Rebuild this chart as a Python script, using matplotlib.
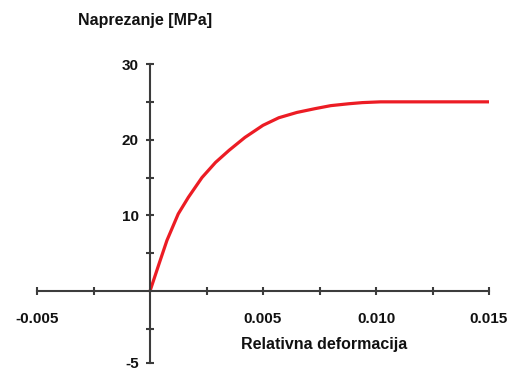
import numpy as np
import matplotlib
matplotlib.use("Agg")
import matplotlib.pyplot as plt
from matplotlib.ticker import FixedLocator

# stress-strain curve
strain = [0.0, 0.0004, 0.00075, 0.00125, 0.0017, 0.0023, 0.0029, 0.0035,
          0.0042, 0.0050, 0.0057, 0.0065, 0.0073, 0.0080, 0.0088, 0.0094,
          0.0102, 0.0120, 0.0150]
stress = [0.0, 3.6, 6.7, 10.2, 12.4, 15.0, 17.0, 18.6,
          20.3, 21.9, 22.9, 23.6, 24.1, 24.5, 24.75, 24.9,
          25.0, 25.0, 25.0]

x_major = [-0.005, 0.005, 0.010, 0.015]
x_labels = ['-0.005', '0.005', '0.010', '0.015']
x_minor = [-0.0025, 0.0025, 0.0075, 0.0125]
y_bottom = -9.5
y_major = [y_bottom, 10, 20, 30]
y_labels = ['-5', '10', '20', '30']
y_minor = [-5, 5, 15, 25]

axis_col = '#3c3c3c'
font = ['Liberation Sans', 'DejaVu Sans']

fig = plt.figure(figsize=(5.12, 3.7), dpi=100)
ax = fig.add_axes([37 / 512, 1 - 363 / 370, 452 / 512, 299 / 370])

ax.plot(strain, stress, color='#ec1c24', lw=2.3, solid_capstyle='round',
        solid_joinstyle='round')

ax.set_xlim(-0.005, 0.015)
ax.set_ylim(y_bottom, 30)

for s in ['top', 'right']:
    ax.spines[s].set_visible(False)
ax.spines['left'].set_position(('data', 0))
ax.spines['bottom'].set_position(('data', 0))
for s in ['left', 'bottom']:
    ax.spines[s].set_color(axis_col)
    ax.spines[s].set_linewidth(1.5)

ax.xaxis.set_major_locator(FixedLocator(x_major))
ax.xaxis.set_minor_locator(FixedLocator(x_minor))
ax.set_xticklabels(x_labels)
ax.yaxis.set_major_locator(FixedLocator(y_major))
ax.yaxis.set_minor_locator(FixedLocator(y_minor))
ax.set_yticklabels(y_labels)

ax.tick_params(which='both', direction='inout', length=6, width=1.5,
               color=axis_col)
ax.tick_params(axis='x', pad=12)
ax.tick_params(axis='y', pad=5)
for lab in ax.get_xticklabels() + ax.get_yticklabels():
    lab.set_family(font)
    lab.set_fontweight('bold')
    lab.set_fontsize(11)
    lab.set_color('#111111')

fig.text(145 / 512, 1 - 20 / 370, 'Naprezanje [MPa]', ha='center', va='center',
         family=font, fontweight='bold', fontsize=11.5, color='#111111')
fig.text(324 / 512, 1 - 345 / 370, 'Relativna deformacija', ha='center',
         va='center', family=font, fontweight='bold', fontsize=11.5,
         color='#111111')

fig.savefig('out.png', dpi=100)
